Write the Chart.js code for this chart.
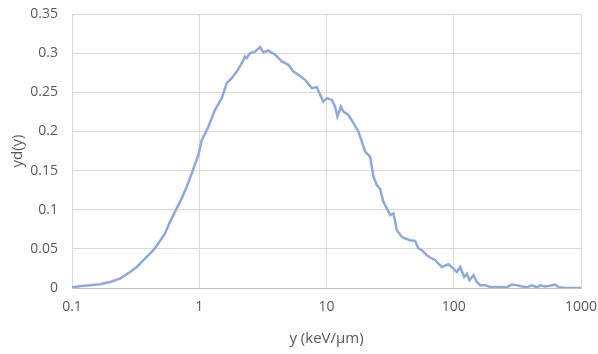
<!DOCTYPE html>
<html>
<head>
<meta charset="utf-8">
<script src="https://cdn.jsdelivr.net/npm/chart.js@4.4.1/dist/chart.umd.min.js"></script>
<style>
  html, body { margin: 0; padding: 0; background: #ffffff; }
  #wrap { width: 598px; height: 354px; position: relative; }
</style>
</head>
<body>
<div id="wrap"><canvas id="c" width="598" height="354"></canvas></div>
<script>
// Lineal energy y (keV/µm)
const xValues = [
  0.1, 0.1156, 0.1385, 0.166, 0.199, 0.2384, 0.2858, 0.3228, 0.3866, 0.4355,
  0.4767, 0.538, 0.589, 0.665, 0.728, 0.797, 0.873, 0.984,
  1.047, 1.11, 1.179, 1.331, 1.502, 1.596, 1.644, 1.801, 1.972, 2.159,
  2.291, 2.362, 2.506, 2.746, 3.006, 3.19, 3.49, 3.944, 4.453, 5.015,
  5.49, 6.016, 6.79, 7.66, 8.39, 8.91, 9.46, 10.05, 11.01, 11.69,
  12.19, 12.96, 13.58, 14.86, 16.28, 17.82, 18.96, 20.1, 22.0, 23.4,
  24.85, 26.4, 28.0, 29.8, 31.6, 33.6, 35.7, 39.1, 41.5, 45.4,
  49.7, 52.8, 56.1, 61.5, 65.2, 71.4, 80.6, 90.8, 99.5, 105.7,
  112.2, 120.7, 126.8, 132.9, 142.9, 152.0, 161.3, 176.6, 193.3, 218,
  261, 286, 313, 343, 376, 411, 450, 478, 523, 572,
  627, 665, 774, 1000
];
// Dose distribution yd(y)
const yValues = [
  0.001, 0.0022, 0.0035, 0.0047, 0.0077, 0.012, 0.0205, 0.0269, 0.0397, 0.0483,
  0.0568, 0.0697, 0.0845, 0.1017, 0.1145, 0.1293, 0.1465, 0.170,
  0.189, 0.197, 0.206, 0.2275, 0.2425, 0.2553, 0.2617, 0.268, 0.2765, 0.2873,
  0.2957, 0.2937, 0.300, 0.302, 0.3078, 0.3009, 0.3034, 0.298, 0.2894, 0.2851,
  0.2765, 0.2723, 0.2659, 0.2553, 0.2566, 0.2467, 0.2381, 0.2425, 0.2403, 0.2317,
  0.219, 0.2317, 0.2253, 0.2211, 0.2105, 0.1997, 0.1869, 0.1741, 0.1677, 0.1421,
  0.1315, 0.1264, 0.1101, 0.1017, 0.0931, 0.0953, 0.0739, 0.0653, 0.0632, 0.0611,
  0.0602, 0.0504, 0.0483, 0.0419, 0.0389, 0.0355, 0.0269, 0.0303, 0.0248, 0.0205,
  0.0269, 0.0141, 0.0184, 0.0099, 0.0163, 0.0077, 0.0035, 0.0035, 0.0013, 0.0013,
  0.001, 0.0043, 0.0035, 0.002, 0.001, 0.0035, 0.001, 0.0035, 0.002, 0.003,
  0.0043, 0.001, 0.0, 0.0
];
const xTicks = [0.1, 1, 10, 100, 1000];
const xTickLabels = ['0.1', '1', '10', '100', '1000'];
const yTicks = [0, 0.05, 0.1, 0.15, 0.2, 0.25, 0.3, 0.35];
const yTickLabels = ['0', '0.05', '0.1', '0.15', '0.2', '0.25', '0.3', '0.35'];
const xTitle = 'y (keV/µm)';
const yTitle = 'yd(y)';

const points = xValues.map((x, i) => ({ x: x, y: yValues[i] }));
const textColor = '#595959';
const gridColor = '#d9d9d9';

new Chart(document.getElementById('c'), {
  type: 'line',
  data: {
    datasets: [{
      data: points,
      borderColor: '#8eaadb',
      borderWidth: 2.5,
      pointRadius: 0,
      fill: false,
      tension: 0
    }]
  },
  options: {
    responsive: false,
    animation: false,
    devicePixelRatio: 1,
    layout: { padding: { left: 0, right: 17, top: 14, bottom: 0 } },
    plugins: { legend: { display: false }, tooltip: { enabled: false } },
    scales: {
      x: {
        type: 'logarithmic',
        min: 0.1,
        max: 1000,
        afterBuildTicks: (s) => { s.ticks = xTicks.map(v => ({ value: v })); },
        afterFit: (s) => { s.height = 66; s.paddingLeft = 0; s.paddingRight = 0; },
        ticks: {
          color: textColor,
          font: { family: 'Open Sans', size: 14 },
          padding: 11,
          maxRotation: 0,
          autoSkip: false,
          callback: (v) => { const i = xTicks.indexOf(v); return i >= 0 ? xTickLabels[i] : ''; }
        },
        grid: { color: gridColor, lineWidth: 1, drawTicks: false },
        border: { display: true, color: '#bfbfbf', width: 1 },
        title: {
          display: true,
          text: xTitle,
          color: textColor,
          font: { family: 'Open Sans', size: 15 },
          padding: { top: 0, bottom: 6 }
        }
      },
      y: {
        type: 'linear',
        min: 0,
        max: 0.35,
        afterBuildTicks: (s) => { s.ticks = yTicks.map(v => ({ value: v })); },
        afterFit: (s) => { s.width = 72; s.paddingTop = 0; s.paddingBottom = 0; },
        ticks: {
          color: textColor,
          font: { family: 'Open Sans', size: 14 },
          padding: 14,
          autoSkip: false,
          callback: (v) => { const i = yTicks.findIndex(t => Math.abs(t - v) < 1e-9); return i >= 0 ? yTickLabels[i] : ''; }
        },
        grid: { color: gridColor, lineWidth: 1, drawTicks: false },
        border: { display: true, color: gridColor, width: 1 },
        title: {
          display: true,
          text: yTitle,
          color: textColor,
          font: { family: 'Open Sans', size: 15 },
          padding: { top: 9, bottom: 0 }
        }
      }
    }
  }
});
</script>
</body>
</html>
